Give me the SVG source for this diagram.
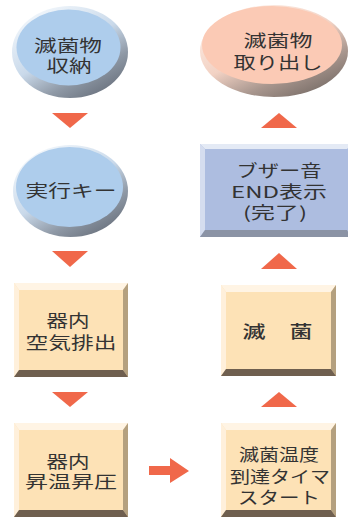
<svg xmlns="http://www.w3.org/2000/svg" width="348" height="517" viewBox="0 0 348 517">
<defs>
<linearGradient id="rimBlue" x1="0.2" y1="0.1" x2="0.8" y2="0.95">
<stop offset="0" stop-color="#eef4fa"/>
<stop offset="0.45" stop-color="#c9d9ea"/>
<stop offset="0.75" stop-color="#8f99a6"/>
<stop offset="1" stop-color="#6c7480"/>
</linearGradient>
<linearGradient id="rimPink" x1="0.2" y1="0.1" x2="0.8" y2="0.95">
<stop offset="0" stop-color="#fdebe2"/>
<stop offset="0.45" stop-color="#f2d2c4"/>
<stop offset="0.75" stop-color="#a8968e"/>
<stop offset="1" stop-color="#7c706a"/>
</linearGradient>
<style>
.t{font-family:"Noto Sans CJK JP","Noto Sans",sans-serif;font-size:16.5px;fill:#333;text-anchor:middle;dominant-baseline:central}
.arr{fill:#f0684a}
.bf{fill:#fde2b6}.bt{fill:#fff4e4}.bl{fill:#fff0db}.br{fill:#b4a07f}.bb{fill:#6f5f4f}
.pf{fill:#adbde0}.pt{fill:#e4eaf5}.pl{fill:#d5ddef}.pb{fill:#8b93a5}
</style>
</defs>
<rect width="348" height="517" fill="#fff"/>

<g id="connectors">
<polygon class="arr" points="52,113 88,113 70,128"/>
<polygon class="arr" points="52,251 88,251 70,267"/>
<polygon class="arr" points="52,392 88,392 70,407"/>
<polygon class="arr" points="261,128 297,128 279,113"/>
<polygon class="arr" points="261,269 297,269 279,253"/>
<polygon class="arr" points="261,407 297,407 279,392"/>
<polygon class="arr" points="149,466 170,466 170,458 189,471 170,483 170,475 149,475"/>
</g>

<g id="node-store">
<ellipse cx="70" cy="52" rx="58" ry="46" fill="url(#rimBlue)"/>
<ellipse cx="68.5" cy="47.5" rx="52" ry="38" fill="#aecdec"/>
<text class="t" x="68" y="45" textLength="68" lengthAdjust="spacingAndGlyphs">滅菌物</text>
<text class="t" x="69" y="65" textLength="45" lengthAdjust="spacingAndGlyphs">収納</text>
</g>

<g id="node-start">
<ellipse cx="70.5" cy="191" rx="57.5" ry="46" fill="url(#rimBlue)"/>
<ellipse cx="69.5" cy="187" rx="53.5" ry="40" fill="#aecdec"/>
<text class="t" x="71" y="190" textLength="91" lengthAdjust="spacingAndGlyphs">実行キー</text>
</g>

<g id="node-exhaust">
<rect class="bf" x="14" y="283" width="114" height="94"/>
<polygon class="bt" points="14,283 128,283 123,290 19,290"/>
<polygon class="bl" points="14,283 19,290 19,370 14,377"/>
<polygon class="br" points="128,283 128,377 123,370 123,290"/>
<polygon class="bb" points="14,377 128,377 123,370 19,370"/>
<text class="t" x="68" y="320" textLength="43" lengthAdjust="spacingAndGlyphs">器内</text>
<text class="t" x="71" y="342" textLength="91" lengthAdjust="spacingAndGlyphs">空気排出</text>
</g>

<g id="node-heat">
<rect class="bf" x="14" y="423" width="114" height="94"/>
<polygon class="bt" points="14,423 128,423 123,430 19,430"/>
<polygon class="bl" points="14,423 19,430 19,510 14,517"/>
<polygon class="br" points="128,423 128,517 123,510 123,430"/>
<polygon class="bb" points="14,517 128,517 123,510 19,510"/>
<text class="t" x="68" y="461" textLength="43" lengthAdjust="spacingAndGlyphs">器内</text>
<text class="t" x="71" y="481" textLength="92" lengthAdjust="spacingAndGlyphs">昇温昇圧</text>
</g>

<g id="node-timer">
<rect class="bf" x="221" y="423" width="115" height="94"/>
<polygon class="bt" points="221,423 336,423 331,430 226,430"/>
<polygon class="bl" points="221,423 226,430 226,510 221,517"/>
<polygon class="br" points="336,423 336,517 331,510 331,430"/>
<polygon class="bb" points="221,517 336,517 331,510 226,510"/>
<text class="t" x="279" y="454" textLength="80" lengthAdjust="spacingAndGlyphs">滅菌温度</text>
<text class="t" x="280" y="476" textLength="100" lengthAdjust="spacingAndGlyphs">到達タイマ</text>
<text class="t" x="279" y="497" textLength="82" lengthAdjust="spacingAndGlyphs">スタート</text>
</g>

<g id="node-sterilize">
<rect class="bf" x="221" y="285" width="115" height="91"/>
<polygon class="bt" points="221,285 336,285 331,292 226,292"/>
<polygon class="bl" points="221,285 226,292 226,369 221,376"/>
<polygon class="br" points="336,285 336,376 331,369 331,292"/>
<polygon class="bb" points="221,376 336,376 331,369 226,369"/>
<text class="t" x="254" y="331" textLength="23" lengthAdjust="spacingAndGlyphs" style="font-weight:500">滅</text>
<text class="t" x="301" y="331" textLength="23" lengthAdjust="spacingAndGlyphs" style="font-weight:500">菌</text>
</g>

<g id="node-buzzer">
<rect class="pf" x="200" y="144" width="152" height="93"/>
<polygon class="pt" points="200,144 352,144 347,149 205,149"/>
<polygon class="pl" points="200,144 205,149 205,230 200,237"/>
<polygon class="pb" points="200,237 352,237 347,230 205,230"/>
<text class="t" x="279" y="170" textLength="85" lengthAdjust="spacingAndGlyphs">ブザー音</text>
<text class="t" x="279" y="191" textLength="96" lengthAdjust="spacingAndGlyphs">END表示</text>
<text class="t" x="275" y="212" textLength="64" lengthAdjust="spacingAndGlyphs">(完了)</text>
</g>

<g id="node-remove">
<ellipse cx="274" cy="51" rx="74" ry="46" fill="url(#rimPink)"/>
<ellipse cx="272" cy="45" rx="70" ry="39" fill="#fbcab5"/>
<text class="t" x="278" y="40" textLength="69" lengthAdjust="spacingAndGlyphs">滅菌物</text>
<text class="t" x="278" y="62" textLength="89" lengthAdjust="spacingAndGlyphs">取り出し</text>
</g>
</svg>
